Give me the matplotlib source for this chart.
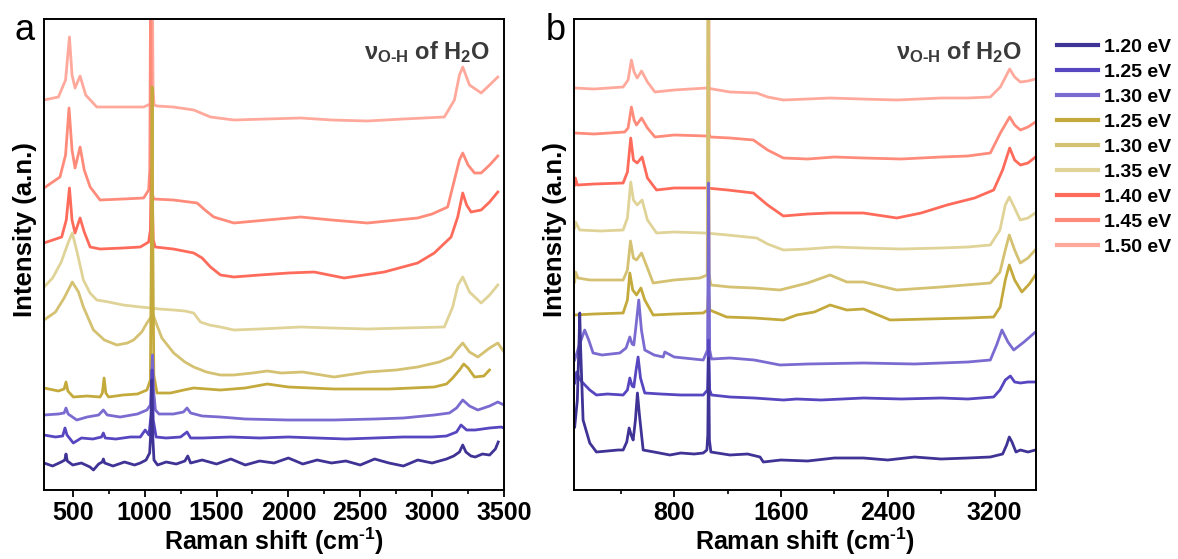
import matplotlib.pyplot as plt
from matplotlib.ticker import MultipleLocator

plt.rcParams['font.family'] = ['Liberation Sans', 'DejaVu Sans']
plt.rcParams['font.weight'] = 'bold'
plt.rcParams['mathtext.fontset'] = 'custom'
plt.rcParams['mathtext.rm'] = 'Liberation Sans:bold'
plt.rcParams['mathtext.bf'] = 'Liberation Sans:bold'
plt.rcParams['mathtext.it'] = 'Liberation Sans:bold'

labels = ["1.20 eV", "1.25 eV", "1.30 eV", "1.25 eV", "1.30 eV",
          "1.35 eV", "1.40 eV", "1.45 eV", "1.50 eV"]
colors = ["#3f3396", "#5646c0", "#7a6bd0", "#c4aa3c", "#d4c171",
          "#e0d398", "#ff6b5b", "#ff8b7b", "#ffa99d"]

# ---- panel a (Raman shift, offset intensity in a.u.) ----
a_x_120 = [300, 360, 420, 445, 453, 462, 500, 560, 620, 644, 680, 705, 713, 722, 780, 860, 930, 970, 1010, 1035,
           1044, 1050, 1056, 1065, 1090, 1150, 1220, 1280, 1300, 1320, 1400, 1500, 1600, 1700, 1800, 1900, 2000,
           2100, 2200, 2300, 2400, 2500, 2600, 2700, 2800, 2900, 3000, 3100, 3150, 3190, 3213, 3235, 3270, 3300,
           3350, 3400, 3440, 3460]
a_y_120 = [27, 24, 28, 30, 36, 29, 25, 27, 23, 20, 26, 28, 31, 27, 24, 28, 25, 27, 30, 37,
           60, 110, 55, 30, 25, 28, 26, 29, 34, 27, 30, 26, 31, 25, 29, 27, 32,
           26, 30, 27, 29, 25, 31, 27, 24, 30, 27, 31, 34, 38, 45, 38, 34, 33,
           36, 35, 41, 48]
a_x_125 = [300, 380, 430, 446, 460, 504, 560, 640, 700, 713, 726, 800, 900, 970, 1004, 1030, 1045, 1052, 1060,
           1080, 1150, 1250, 1295, 1320, 1400, 1600, 1800, 2000, 2200, 2400, 2600, 2800, 3000, 3100, 3170, 3201,
           3240, 3300, 3400, 3480, 3500]
a_y_125 = [55, 53, 54, 62, 55, 47, 52, 51, 53, 57, 52, 51, 53, 53, 60, 55, 75, 120, 70,
           53, 52, 53, 58, 52, 52, 53, 52, 53, 52, 51, 52, 53, 53, 54, 58, 65,
           60, 60, 62, 63, 62]
a_x_130 = [300, 400, 440, 453, 468, 528, 600, 680, 713, 740, 830, 950, 1016, 1040, 1048, 1055, 1062, 1075, 1100,
           1200, 1270, 1295, 1320, 1400, 1527, 1700, 2000, 2318, 2600, 2800, 3015, 3120, 3170, 3213, 3260, 3318,
           3400, 3457, 3500]
a_y_130 = [75, 76, 77, 82, 76, 70, 73, 75, 80, 75, 73, 76, 80, 85, 110, 135, 100, 80, 76,
           76, 78, 82, 77, 74, 73, 71, 70, 70, 71, 72, 75, 77, 82, 90, 84, 80,
           84, 88, 85]
a_x_125g = [300, 400, 440, 453, 466, 504, 600, 690, 706, 718, 730, 749, 850, 950, 1016, 1040, 1047, 1052, 1057,
            1064, 1086, 1180, 1272, 1341, 1527, 1700, 1853, 2000, 2318, 2700, 3015, 3100, 3143, 3190, 3220, 3250,
            3295, 3360, 3399]
a_y_125g = [102, 99, 101, 108, 99, 93, 94, 93, 97, 112, 97, 93, 95, 96, 100, 110, 250, 403, 250,
            115, 97, 97, 100, 102, 100, 102, 106, 103, 101, 101, 103, 106, 112, 120, 126, 122,
            113, 114, 120]
a_x_130g = [300, 380, 440, 497, 540, 574, 644, 720, 807, 880, 923, 980, 1016, 1040, 1060, 1085, 1120, 1202, 1280,
            1341, 1430, 1527, 1621, 1750, 1853, 1950, 2100, 2318, 2550, 2750, 2899, 3050, 3132, 3170, 3213, 3260,
            3318, 3400, 3457, 3500]
a_y_130g = [170, 178, 192, 208, 198, 183, 160, 150, 145, 147, 150, 158, 167, 172, 175, 165, 152, 137, 128,
            123, 118, 115, 115, 117, 119, 117, 118, 113, 118, 120, 123, 128, 133, 140, 147, 138,
            133, 142, 147, 138]
a_x_135 = [300, 360, 420, 470, 497, 530, 574, 620, 667, 750, 850, 970, 1050, 1100, 1202, 1280, 1341, 1388, 1450,
           1527, 1621, 1800, 2086, 2300, 2550, 2800, 3085, 3143, 3180, 3213, 3260, 3341, 3400, 3457]
a_y_135 = [203, 212, 228, 248, 257, 238, 210, 197, 190, 188, 185, 183, 182, 181, 180, 179, 177, 168, 165,
           163, 160, 161, 163, 162, 161, 162, 163, 183, 205, 213, 198, 187, 195, 205]
a_x_140 = [300, 423, 455, 477, 495, 516, 551, 580, 621, 690, 850, 970, 1028, 1040, 1046, 1052, 1060, 1074, 1200,
           1342, 1400, 1458, 1528, 1621, 1800, 2000, 2179, 2388, 2667, 2899, 3015, 3132, 3178, 3213, 3240, 3271,
           3341, 3400, 3457]
a_y_140 = [247, 253, 270, 302, 270, 257, 272, 258, 243, 241, 242, 243, 248, 260, 320, 300, 250, 243, 241,
           237, 232, 223, 215, 213, 215, 217, 218, 212, 218, 227, 237, 253, 273, 297, 285, 278,
           280, 288, 298]
a_x_145 = [300, 411, 450, 474, 495, 516, 551, 580, 621, 690, 850, 993, 1028, 1036, 1042, 1048, 1056, 1063, 1200,
           1365, 1420, 1481, 1621, 1850, 2086, 2300, 2550, 2899, 3000, 3108, 3155, 3190, 3213, 3250, 3295, 3341,
           3400, 3457]
a_y_145 = [302, 313, 335, 382, 340, 322, 343, 320, 303, 290, 291, 292, 300, 320, 520, 330, 295, 291, 290,
           287, 280, 273, 267, 270, 273, 270, 267, 272, 276, 283, 310, 330, 337, 325, 317, 317,
           325, 334]
a_x_150 = [300, 400, 450, 477, 495, 516, 551, 590, 667, 800, 993, 1040, 1047, 1053, 1059, 1066, 1086, 1200, 1342,
           1458, 1621, 1850, 2086, 2300, 2550, 2800, 3085, 3155, 3190, 3213, 3260, 3341, 3400, 3457]
a_y_150 = [390, 393, 410, 453, 415, 402, 414, 395, 383, 383, 383, 386, 395, 520, 400, 385, 384, 383, 380,
           373, 370, 371, 372, 370, 369, 371, 373, 390, 415, 423, 405, 397, 405, 413]

# ---- panel b ----
b_x_120 = [55, 75, 88, 93, 100, 118, 168, 218, 300, 380, 418, 445, 463, 478, 493, 510, 525, 540, 568, 650,
           768, 850, 950, 1018, 1045, 1052, 1058, 1064, 1075, 1218, 1350, 1443, 1468, 1600, 1800, 2000, 2218,
           2400, 2600, 2800, 3000, 3168, 3260, 3290, 3310, 3330, 3360, 3393, 3450, 3506]
b_y_120 = [63, 90, 150, 177, 140, 70, 47, 38, 39, 40, 40, 48, 62, 55, 50, 70, 97, 75, 40, 38,
           35, 37, 36, 37, 40, 55, 132, 50, 38, 35, 36, 33, 28, 30, 29, 32, 32,
           30, 33, 31, 32, 33, 36, 45, 53, 48, 38, 40, 38, 40]
b_x_125 = [55, 70, 88, 110, 168, 218, 300, 418, 450, 468, 485, 498, 515, 530, 548, 580, 700, 850, 1018, 1050,
           1058, 1066, 1080, 1218, 1400, 1618, 1718, 1900, 2218, 2500, 2800, 3000, 3193, 3240, 3280, 3318, 3350,
           3393, 3450, 3506]
b_y_125 = [107, 118, 112, 108, 100, 95, 96, 95, 100, 112, 104, 103, 120, 133, 112, 97, 96, 95, 95, 100,
           150, 100, 95, 93, 92, 90, 91, 90, 92, 91, 92, 91, 93, 100, 110, 114, 108,
           107, 108, 108]
b_x_130 = [55, 90, 130, 160, 193, 260, 393, 440, 468, 485, 498, 515, 535, 555, 580, 650, 718, 730, 800, 1018,
           1050, 1058, 1066, 1080, 1218, 1400, 1593, 1800, 2218, 2600, 3000, 3168, 3215, 3255, 3300, 3343, 3420,
           3506]
b_y_130 = [130, 145, 160, 150, 137, 135, 137, 142, 153, 146, 145, 165, 190, 160, 140, 135, 133, 138, 133, 130,
           140, 307, 140, 131, 132, 130, 125, 126, 127, 126, 128, 130, 145, 160, 148, 140, 148,
           158]
b_x_125g = [55, 200, 418, 450, 468, 490, 518, 551, 580, 643, 800, 1018, 1050, 1058, 1066, 1193, 1400, 1618,
            1718, 1850, 1968, 2093, 2218, 2418, 2700, 3000, 3193, 3242, 3280, 3310, 3350, 3404, 3460, 3506]
b_y_125g = [175, 176, 177, 190, 217, 200, 195, 202, 190, 175, 176, 177, 180, 200, 180, 173, 172, 170,
            175, 178, 185, 180, 181, 170, 171, 172, 173, 183, 210, 225, 210, 198, 206, 215]
b_x_130g = [55, 62, 80, 168, 418, 450, 473, 495, 518, 556, 600, 643, 800, 993, 1048, 1054, 1057, 1062, 1075,
            1218, 1400, 1593, 1800, 1968, 2093, 2218, 2468, 2800, 3168, 3240, 3280, 3310, 3350, 3392, 3450, 3504]
b_y_130g = [208, 218, 212, 210, 210, 220, 249, 232, 230, 237, 222, 207, 210, 212, 215, 600, 600, 215, 205,
            203, 202, 200, 207, 215, 208, 208, 200, 203, 207, 218, 240, 255, 240, 227, 232, 240]
b_x_135 = [55, 62, 93, 250, 418, 450, 475, 495, 523, 560, 600, 668, 800, 1030, 1200, 1418, 1500, 1618, 1800,
           2000, 2218, 2500, 2800, 3000, 3168, 3240, 3280, 3310, 3350, 3392, 3450, 3504]
b_y_135 = [262, 268, 260, 259, 260, 272, 308, 290, 285, 290, 270, 257, 258, 257, 255, 252, 246, 240, 241,
           243, 242, 241, 242, 243, 245, 260, 285, 293, 282, 270, 272, 277]
b_x_140 = [55, 60, 75, 200, 418, 450, 475, 495, 523, 560, 600, 668, 800, 1043, 1200, 1393, 1500, 1618, 1800,
           1968, 2218, 2468, 2650, 2843, 3050, 3193, 3260, 3313, 3350, 3393, 3450, 3506]
b_y_140 = [305, 312, 305, 306, 307, 318, 352, 330, 327, 333, 312, 300, 302, 302, 300, 297, 285, 274, 276,
           277, 277, 272, 277, 285, 292, 300, 320, 342, 330, 325, 327, 333]
b_x_145 = [55, 200, 430, 455, 480, 500, 518, 556, 600, 656, 800, 1043, 1054, 1058, 1062, 1070, 1218, 1393,
           1500, 1618, 1800, 2000, 2218, 2500, 2800, 3000, 3168, 3243, 3313, 3350, 3393, 3450, 3506]
b_y_145 = [357, 356, 358, 362, 383, 370, 365, 372, 362, 353, 355, 354, 356, 600, 356, 353, 352, 350,
           340, 332, 331, 333, 332, 331, 333, 334, 337, 357, 373, 365, 360, 363, 368]
b_x_150 = [55, 200, 418, 455, 480, 500, 523, 556, 600, 656, 800, 1043, 1218, 1418, 1500, 1618, 1800, 1968,
           2200, 2468, 2800, 3000, 3168, 3243, 3313, 3350, 3393, 3450, 3506]
b_y_150 = [402, 401, 403, 410, 430, 418, 412, 419, 408, 398, 400, 402, 398, 397, 393, 390, 391, 392,
           391, 390, 392, 392, 393, 403, 421, 413, 408, 409, 411]

series_a = [(a_x_120, a_y_120), (a_x_125, a_y_125), (a_x_130, a_y_130), (a_x_125g, a_y_125g),
            (a_x_130g, a_y_130g), (a_x_135, a_y_135), (a_x_140, a_y_140), (a_x_145, a_y_145),
            (a_x_150, a_y_150)]
series_b = [(b_x_120, b_y_120), (b_x_125, b_y_125), (b_x_130, b_y_130), (b_x_125g, b_y_125g),
            (b_x_130g, b_y_130g), (b_x_135, b_y_135), (b_x_140, b_y_140), (b_x_145, b_y_145),
            (b_x_150, b_y_150)]

fig = plt.figure(figsize=(11.78, 5.59), dpi=100)
ax_a = fig.add_axes([44 / 1178, 69 / 559, 460 / 1178, 471 / 559])
ax_b = fig.add_axes([574 / 1178, 69 / 559, 462 / 1178, 471 / 559])

handles = []
for ax, series in [(ax_a, series_a), (ax_b, series_b)]:
    lines = []
    # top spectra first so the lower ones sit on top
    for i in range(len(series) - 1, -1, -1):
        x, y = series[i]
        ln, = ax.plot(x, y, color=colors[i], lw=2.0, label=labels[i])
        lines.append(ln)
    handles = lines[::-1]
    ax.set_ylim(0, 471)
    ax.set_yticks([])
    ax.set_xlabel(r"Raman shift (cm$^{\text{-}1}$)", fontsize=18, fontweight='bold', labelpad=0)
    ax.set_ylabel("Intensity (a.n.)", fontsize=18.5, fontweight='bold')
    ax.yaxis.set_label_coords(-0.016, 0.552)
    ax.tick_params(axis='x', which='major', direction='out', length=5, width=1.3,
                   labelsize=18, pad=3)
    ax.tick_params(axis='x', which='minor', direction='out', length=3, width=1.2)
    for s in ax.spines.values():
        s.set_linewidth(1.4)
    ax.text(0.97, 0.93, r"$\nu_{O\text{-}H}$ of H$_2$O", transform=ax.transAxes,
            ha='right', va='center', fontsize=17, color='#3a3a3a', fontweight='bold')

ax_a.set_xlim(300, 3500)
ax_a.xaxis.set_major_locator(MultipleLocator(500))
ax_a.xaxis.set_minor_locator(MultipleLocator(250))
ax_b.set_xlim(50, 3510)
ax_b.set_xticks([800, 1600, 2400, 3200])
ax_b.set_xticks([400, 1200, 2000, 2800], minor=True)

fig.text(15 / 1178, 1 - 31 / 559, "a", fontsize=26, fontweight='normal', va='center')
fig.text(546 / 1178, 1 - 31 / 559, "b", fontsize=26, fontweight='normal', va='center')

leg = fig.legend(handles=handles, labels=labels, loc='upper left',
                 bbox_to_anchor=(1057 / 1178, 1 - 38 / 559), frameon=False,
                 fontsize=14, handlelength=2.1, handletextpad=0.3, labelspacing=0.38,
                 borderaxespad=0, borderpad=0)
for h in leg.legend_handles:
    h.set_linewidth(3)
for t in leg.get_texts():
    t.set_fontweight('bold')

plt.savefig("out.png", dpi=100)
